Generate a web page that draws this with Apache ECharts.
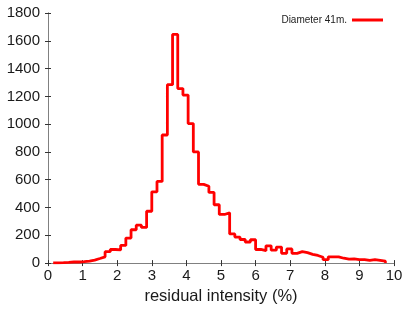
<!DOCTYPE html>
<html>
<head>
<meta charset="utf-8">
<script src="https://cdn.jsdelivr.net/npm/echarts@6/dist/echarts.min.js"></script>
<style>
html,body{margin:0;padding:0;background:#fff;}
#chart{width:414px;height:310px;}
</style>
</head>
<body>
<div id="chart"></div>
<script>
// Left edges of histogram bins (width 0.15)
const binLeftEdges = [0.15,0.30,0.45,0.60,0.75,0.90,1.05,1.20,1.35,1.50,1.65,1.80,1.95,2.10,2.25,2.40,
  2.55,2.70,2.85,3.00,3.15,3.30,3.45,3.60,3.75,3.90,4.05,4.20,4.35,4.50,4.65,4.80,
  4.95,5.10,5.25,5.40,5.55,5.70,5.85,6.00,6.15,6.30,6.45,6.60,6.75,6.90,7.05,7.20,
  7.35,7.50,7.65,7.80,7.95,8.10,8.25,8.40,8.55,8.70,8.85,9.00,9.15,9.30,9.45,9.60];
const lastRightEdge = 9.75;
const counts = [2,3,5,8,8,10,15,22,33,45,82,98,95,127,180,240,
  273,257,373,513,588,922,1284,1646,1256,1209,1004,800,567,553,509,420,
  350,362,210,187,170,152,168,98,89,124,93,115,70,102,70,82,
  75,63,55,42,25,45,45,35,28,30,25,25,20,25,20,15];
const seriesName = 'Diameter 41m.';
const xTicks = {min:0, max:10, interval:1};
const yTicks = {min:0, max:1800, interval:200};
const xTitle = 'residual intensity (%)';

const stepData = binLeftEdges.map((x,i)=>[x, counts[i]]);
stepData.push([lastRightEdge, counts[counts.length-1]]);
stepData.push([lastRightEdge, 0]);

const FONT = '"Liberation Sans", Arial, sans-serif';
const frameColor = '#808080';
const chart = echarts.init(document.getElementById('chart'), null, {renderer:'canvas'});
const hiddenAxisCommon = {
  axisLine:{show:true, lineStyle:{color:frameColor, width:1}},
  axisTick:{show:true, inside:true, length:3, lineStyle:{color:'#333'}},
  axisLabel:{show:false},
  splitLine:{show:false}
};
chart.setOption({
  animation:false,
  grid:{left:48, right:20, top:13, bottom:40, containLabel:false},
  legend:{
    data:[seriesName], right:31, top:15, align:'right', padding:0,
    icon:'rect', itemWidth:31, itemHeight:3, itemGap:5,
    textStyle:{fontFamily:FONT, fontSize:10, color:'#222'}
  },
  xAxis:[{
    type:'value', position:'bottom', min:xTicks.min, max:xTicks.max, interval:xTicks.interval,
    axisLine:{show:true, onZero:false, lineStyle:{color:frameColor, width:1}},
    axisTick:{show:true, inside:true, length:3, lineStyle:{color:'#333'}},
    axisLabel:{fontFamily:FONT, fontSize:15, color:'#1a1a1a', margin:5, formatter:v=>String(v)},
    splitLine:{show:false},
    name:xTitle, nameLocation:'middle', nameGap:20,
    nameTextStyle:{fontFamily:FONT, fontSize:16.5, color:'#1a1a1a'}
  },{
    type:'value', position:'top', min:xTicks.min, max:xTicks.max, interval:xTicks.interval,
    ...hiddenAxisCommon
  }],
  yAxis:[{
    type:'value', position:'left', min:yTicks.min, max:yTicks.max, interval:yTicks.interval,
    axisLine:{show:true, onZero:false, lineStyle:{color:frameColor, width:1}},
    axisTick:{show:true, inside:true, length:3, lineStyle:{color:'#333'}},
    axisLabel:{fontFamily:FONT, fontSize:15, color:'#1a1a1a', margin:8, formatter:v=>String(v)},
    splitLine:{show:false}
  },{
    type:'value', position:'right', min:yTicks.min, max:yTicks.max, interval:yTicks.interval,
    ...hiddenAxisCommon
  }],
  series:[{
    name:seriesName, type:'line', step:'end', xAxisIndex:0, yAxisIndex:0,
    data:stepData, showSymbol:false, symbol:'none',
    lineStyle:{color:'#ff0000', width:2.8},
    itemStyle:{color:'#ff0000'}
  }]
});
</script>
</body>
</html>
